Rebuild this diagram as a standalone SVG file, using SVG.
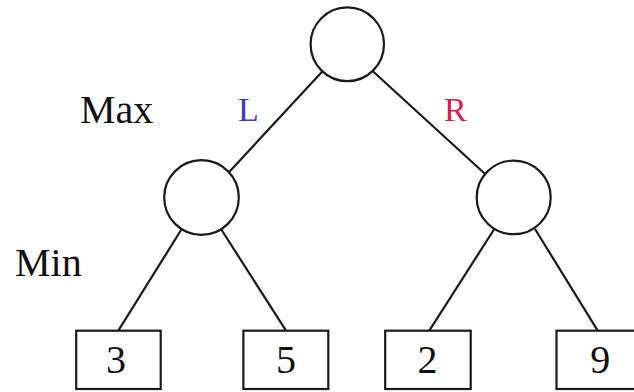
<svg xmlns="http://www.w3.org/2000/svg" width="634" height="392" viewBox="0 0 634 392">
  <style>
    .node { fill: #ffffff; stroke: #1a1a1a; stroke-width: 2.2; }
    .edge { stroke: #1a1a1a; stroke-width: 2.2; fill: none; }
    .txt { font-family: "Liberation Serif", "Times New Roman", serif; fill: #111111; }
    .lvl { font-size: 40px; }
    .num { font-size: 40px; text-anchor: middle; }
    .lbl { font-size: 34px; }
  </style>
  <rect width="634" height="392" fill="#ffffff"/>

  <!-- edges of the game tree -->
  <g id="connectors">
    <line class="edge" x1="322.3" y1="71.5" x2="227.3" y2="174"/>
    <line class="edge" x1="372.3" y1="70.7" x2="486" y2="174.7"/>
    <line class="edge" x1="181.7" y1="229" x2="118.3" y2="330.7"/>
    <line class="edge" x1="221" y1="229" x2="286" y2="330.7"/>
    <line class="edge" x1="494.3" y1="229" x2="429.3" y2="330.7"/>
    <line class="edge" x1="535" y1="229" x2="597.7" y2="330.7"/>
  </g>

  <!-- level labels -->
  <text class="txt lvl" x="80" y="122.5">Max</text>
  <text class="txt lvl" x="15" y="276">Min</text>

  <!-- move labels -->
  <text class="txt lbl" x="238" y="120.5" fill="#3a3fc0" style="fill:#3a3fc0">L</text>
  <text class="txt lbl" x="444" y="121" fill="#d41f4c" style="fill:#d41f4c">R</text>

  <!-- decision nodes -->
  <g id="root"><ellipse class="node" cx="347.3" cy="44.3" rx="36.7" ry="36.9"/></g>
  <g id="min-left"><ellipse class="node" cx="201.5" cy="197.5" rx="37.3" ry="37.3"/></g>
  <g id="min-right"><ellipse class="node" cx="513.7" cy="197.4" rx="37" ry="36.8"/></g>

  <!-- terminal values -->
  <g id="leaf-3">
    <rect class="node" x="76.2" y="330.7" width="84.5" height="58.3"/>
    <text class="txt num" x="116" y="373">3</text>
  </g>
  <g id="leaf-5">
    <rect class="node" x="243.4" y="330.7" width="84.9" height="58.3"/>
    <text class="txt num" x="286" y="373">5</text>
  </g>
  <g id="leaf-2">
    <rect class="node" x="385.2" y="330.7" width="85.5" height="58.3"/>
    <text class="txt num" x="427.5" y="373">2</text>
  </g>
  <g id="leaf-9">
    <rect class="node" x="556.5" y="330.7" width="85.5" height="58.3"/>
    <text class="txt num" x="600.3" y="373">9</text>
  </g>
</svg>
